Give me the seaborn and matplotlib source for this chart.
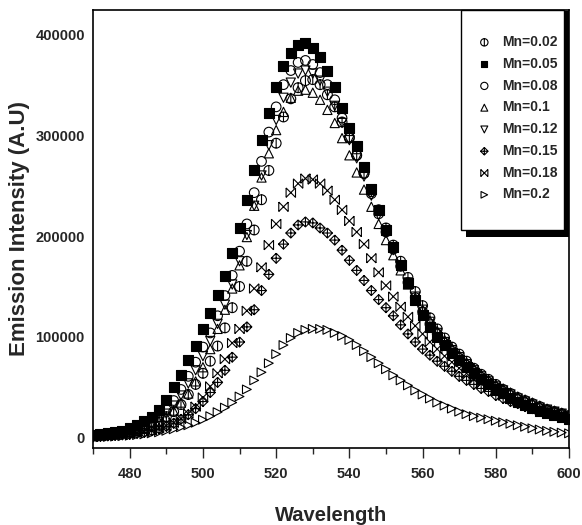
import numpy as np
import pandas as pd
import matplotlib
matplotlib.use("Agg")
import matplotlib.pyplot as plt
from matplotlib.path import Path
from matplotlib.patches import Rectangle
from matplotlib.ticker import MultipleLocator
import seaborn as sns

# emission spectra, intensity in thousands (A.U), sampled every 2 nm
wavelength = np.arange(470, 601, 2)

mn002 = [2, 2.5, 3, 3.5, 4.5, 5.5, 7, 9, 12, 16, 21, 26, 33, 43, 53,
         64, 76, 91, 109, 129, 150, 175, 206, 236, 265, 292, 318, 336, 347, 354,
         355, 350, 340, 328, 313, 297, 280, 262, 244, 226, 208, 191, 175, 159, 145,
         131, 119, 108, 99, 90, 83, 76, 69, 63, 58, 53, 48, 44, 40, 37,
         34, 31, 28, 26, 24, 22]
mn005 = [3, 3.5, 4.5, 5.5, 7, 9.5, 13, 17, 21, 28, 37.5, 50, 62, 77, 91,
         108, 124, 142, 160, 183, 208, 236, 265, 295, 322, 348, 368, 381, 389, 391,
         386, 377, 364, 348, 327, 307, 289, 268, 247, 226, 206, 189, 171, 153, 137,
         122, 110, 100, 92, 84, 77, 70, 64, 58, 53, 48, 44, 40, 36, 33,
         30, 27, 25, 23, 21, 19]
mn008 = [2.5, 3, 4, 5, 6, 7.5, 9.5, 12, 15.5, 21, 28, 37, 48, 61, 75,
         90, 104, 121, 141, 161, 185, 212, 243, 274, 303, 328, 350, 364, 372, 374,
         370, 362, 350, 335, 317, 298, 280, 262, 242, 222, 204, 187, 170, 154, 139,
         125, 113, 103, 94, 86, 79, 72, 66, 60, 55, 50, 46, 42, 38, 35,
         32, 29, 27, 25, 23, 21]
mn010 = [2, 2.5, 3, 4, 5, 6, 7.5, 9.5, 12.5, 16.5, 21, 27, 35, 44, 56,
         70, 88, 108, 127, 148, 171, 199, 230, 258, 282, 305, 323, 337, 344, 345,
         342, 335, 325, 312, 297, 280, 263, 246, 229, 212, 196, 181, 166, 152, 139,
         127, 116, 106, 97, 89, 82, 75, 69, 63, 58, 53, 49, 45, 41, 38,
         35, 32, 29, 27, 25, 23]
mn012 = [2, 2.5, 3, 4, 5, 6.5, 8, 10.5, 13.5, 18, 24, 32, 42, 54, 67,
         81, 96, 113, 132, 152, 175, 201, 230, 260, 290, 315, 337, 352, 361, 364,
         361, 354, 343, 329, 312, 295, 277, 259, 240, 221, 203, 186, 170, 154, 140,
         127, 115, 104, 95, 87, 80, 73, 67, 61, 56, 51, 47, 43, 39, 36,
         33, 30, 28, 26, 24, 22]
mn015 = [1, 1.5, 2, 2.5, 3, 3.5, 4.5, 5.5, 7, 9, 11.5, 14.5, 18.5, 23, 29,
         36, 45, 55, 67, 80, 95, 110, 127, 146, 162, 178, 192, 203, 211, 214,
         213, 208, 203, 196, 186, 176, 166, 156, 146, 137, 129, 121, 112, 103, 95,
         88, 82, 76, 71, 66, 61, 57, 53, 49, 46, 42, 39, 36, 34, 31,
         29, 27, 25, 23, 21, 19]
mn018 = [1, 1.5, 2, 2.5, 3, 4, 5, 6, 7.5, 9.5, 12, 15, 19, 24, 31,
         40, 51, 64, 78, 94, 108, 126, 148, 169, 191, 212, 229, 243, 252, 257,
         256, 252, 245, 236, 226, 215, 204, 192, 178, 164, 151, 140, 130, 120, 111,
         103, 95, 88, 81, 75, 69, 64, 59, 54, 50, 46, 42, 39, 36, 33,
         30, 28, 26, 24, 22, 20]
mn020 = [0.5, 0.7, 1, 1.3, 1.7, 2.2, 2.8, 3.5, 4.5, 5.5, 7, 8.5, 10.5, 12.5, 15,
         18, 21.5, 25.5, 30, 35, 41, 48, 57, 65, 74, 83, 92, 99, 104, 107,
         108, 108, 107, 104, 101, 97, 92, 86, 80, 74, 68, 62, 57, 52, 47,
         43, 39, 35, 32, 29, 26, 23.5, 21.5, 20, 18.5, 17, 15.5, 14, 12.5, 11,
         9.5, 8.3, 7, 6, 5.2, 4.5]

labels = ["Mn=0.02", "Mn=0.05", "Mn=0.08", "Mn=0.1",
          "Mn=0.12", "Mn=0.15", "Mn=0.18", "Mn=0.2"]
series = [mn002, mn005, mn008, mn010, mn012, mn015, mn018, mn020]

M, L = Path.MOVETO, Path.LINETO
bar_circle = Path.make_compound_path(Path.unit_circle(),
                                     Path([(0, -1), (0, 1)], [M, L]))
diamond_plus = Path([(0, 1), (1, 0), (0, -1), (-1, 0), (0, 1),
                     (-1, 0), (1, 0), (0, -1), (0, 1)],
                    [M, L, L, L, L, M, L, M, L])
x_bow = Path([(-1, -1), (1, 1), (-1, 1), (1, -1),
              (-1, 1), (-1, -1), (1, 1), (1, -1)],
             [M, L, M, L, M, L, M, L])

markers = [bar_circle, "s", "o", "^", "v", diamond_plus, x_bow, ">"]
faces = ["none", "black", "none", "none", "none", "none", "none", "none"]
sizes = [50, 44, 48, 44, 44, 52, 46, 40]

sns.set_style("ticks")
plt.rcParams['font.family'] = ['Liberation Sans', 'DejaVu Sans']
plt.rcParams['font.weight'] = 'bold'

fig = plt.figure(figsize=(5.82, 5.25), dpi=100)
ax = fig.add_axes([0.16, 0.1467, 0.8177, 0.8343])

for lab, vals, m, fc, sz in zip(labels, series, markers, faces, sizes):
    d = pd.DataFrame({"wl": wavelength, "I": np.array(vals) * 1000})
    sns.scatterplot(data=d, x="wl", y="I", marker=m, s=sz, facecolor=fc,
                    edgecolor="black", linewidth=0.8, label=lab, ax=ax,
                    zorder=3, legend=False)

ax.set_xlim(470, 600)
ax.set_ylim(-10000, 424000)
ax.xaxis.set_major_locator(MultipleLocator(20))
ax.xaxis.set_minor_locator(MultipleLocator(10))
ax.yaxis.set_major_locator(MultipleLocator(100000))
ax.ticklabel_format(style='plain', axis='y')
ax.tick_params(axis='x', which='major', length=7, width=1, direction='out',
               pad=7, labelsize=10.5)
ax.tick_params(axis='x', which='minor', length=4, width=1, direction='out')
ax.tick_params(axis='y', length=0, pad=6, labelsize=10.5)
for t in ax.get_xticklabels() + ax.get_yticklabels():
    t.set_fontweight('bold')
for sp in ax.spines.values():
    sp.set_linewidth(1.2)
    sp.set_color('black')

ax.set_xlabel("Wavelength", fontsize=14.5, fontweight='bold', labelpad=18)
ax.set_ylabel("Emission Intensity (A.U)", fontsize=16, fontweight='bold',
              labelpad=4)

# legend box with a solid black drop shadow
W, H = 582, 525
fig.patches.append(Rectangle((466 / W, 1 - 237 / H), 103 / W, 226 / H,
                             transform=fig.transFigure, facecolor='black',
                             edgecolor='none', zorder=4))
fig.patches.append(Rectangle((461 / W, 1 - 230 / H), 103 / W, 220 / H,
                             transform=fig.transFigure, facecolor='white',
                             edgecolor='black', linewidth=1.0, zorder=4.5))

handles = ax.collections
leg = fig.legend(handles, labels, loc='upper left',
                 bbox_to_anchor=(476 / W, 1 - 35 / H), frameon=False,
                 prop={'weight': 'bold', 'size': 10}, borderpad=0,
                 borderaxespad=0, handlelength=1.2, handletextpad=0.67,
                 labelspacing=0.56, markerscale=0.75)
leg.set_zorder(6)

fig.savefig("out.png", dpi=100)
